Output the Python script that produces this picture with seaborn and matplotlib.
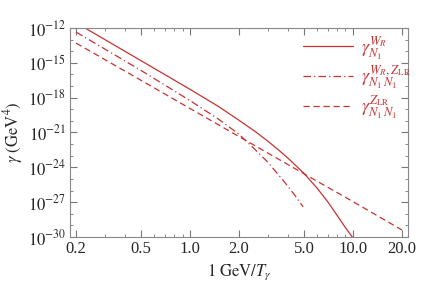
import numpy as np
import pandas as pd
import matplotlib
matplotlib.use("Agg")
import matplotlib.pyplot as plt
import matplotlib.ticker as mticker
import seaborn as sns

# --- values (x = 1 GeV/T, y = log10 gamma) ---
x_wr = [0.2, 0.5, 1.0, 1.5, 2.0, 2.5, 3.0, 3.5, 4.0, 5.0, 6.0, 7.0, 8.0, 9.0,
        10.0, 10.5]
logy_wr = [-11.55, -14.81, -17.28, -18.77, -19.95, -20.89, -21.74, -22.51,
           -23.22, -24.51, -25.76, -26.96, -28.14, -29.2, -30.08, -30.6]

x_wrz = [0.2, 0.5, 1.0, 1.5, 2.0, 2.44, 3.0, 3.72, 4.4, 4.94]
logy_wrz = [-12.35, -15.65, -18.25, -19.86, -21.15, -22.3, -23.55, -25.1,
            -26.4, -27.4]

x_z = [0.2, 0.5, 1.0, 2.0, 5.0, 10.0, 20.0]
logy_z = [-13.3, -16.5, -18.93, -21.35, -24.55, -26.95, -29.4]

labels = [r"$\gamma^{W_R}_{N_1}$",
          r"$\gamma^{W_R,Z_{\rm LR}}_{N_1\,N_1}$",
          r"$\gamma^{Z_{\rm LR}}_{N_1\,N_1}$"]

x_ticks = [0.2, 0.5, 1.0, 2.0, 5.0, 10.0, 20.0]
x_tick_labels = ["0.2", "0.5", "1.0", "2.0", "5.0", "10.0", "20.0"]
y_tick_exps = [-30, -27, -24, -21, -18, -15, -12]

red = "#c83232"

sns.set_style("ticks")
plt.rcParams.update({
    "font.family": ["Liberation Serif", "DejaVu Serif"],
    "mathtext.fontset": "stix",
    "font.size": 12,
})

fig = plt.figure(figsize=(4.36, 2.85), dpi=100)
ax = fig.add_axes([0.1606, 0.1684, 0.7752, 0.7334])

curves = [(x_wr, logy_wr, "-"), (x_wrz, logy_wrz, (0, (6, 2.5, 1, 2.5))),
          (x_z, logy_z, (0, (5, 3)))]
for (xs, ly, ls), lab in zip(curves, labels):
    df = pd.DataFrame({"x": xs, "y": 10.0 ** np.array(ly)})
    sns.lineplot(data=df, x="x", y="y", ax=ax, color=red, linewidth=0.9,
                 linestyle=ls, label=lab, sort=False)

ax.set_xscale("log")
ax.set_yscale("log")
ax.set_xlim(0.1837, 21.77)
ax.set_ylim(1e-30, 1e-12)

ax.xaxis.set_major_locator(mticker.FixedLocator(x_ticks))
ax.xaxis.set_major_formatter(mticker.FixedFormatter(x_tick_labels))
ax.xaxis.set_minor_locator(mticker.LogLocator(base=10, subs=np.arange(1, 10)))
ax.xaxis.set_minor_formatter(mticker.NullFormatter())

ax.yaxis.set_major_locator(mticker.FixedLocator([10.0 ** e for e in y_tick_exps]))
ax.yaxis.set_major_formatter(mticker.FixedFormatter([rf"$10^{{{e}}}$" for e in y_tick_exps]))
ax.yaxis.set_minor_locator(mticker.FixedLocator([10.0 ** e for e in range(-30, -11)]))
ax.yaxis.set_minor_formatter(mticker.NullFormatter())

ax.tick_params(which="both", direction="in", top=True, right=True,
               color="#777777", labelsize=12, pad=3)
ax.tick_params(which="major", length=5, width=0.8)
ax.tick_params(which="minor", length=2.5, width=0.6)
for sp in ax.spines.values():
    sp.set_color("#888888")
    sp.set_linewidth(0.8)

ax.set_xlabel(r"$1\ \mathrm{GeV}/T_\gamma$", fontsize=12, labelpad=4)
ax.set_ylabel(r"$\gamma\ (\mathrm{GeV}^4)$", fontsize=12, labelpad=2)

leg = ax.legend(loc="upper left", bbox_to_anchor=(0.689, 0.97), frameon=False,
                handlelength=2.8, handletextpad=0.4, labelspacing=0.1,
                fontsize=13, borderaxespad=0.0, borderpad=0.0)
for t in leg.get_texts():
    t.set_color(red)

fig.savefig("out.png", dpi=100)
